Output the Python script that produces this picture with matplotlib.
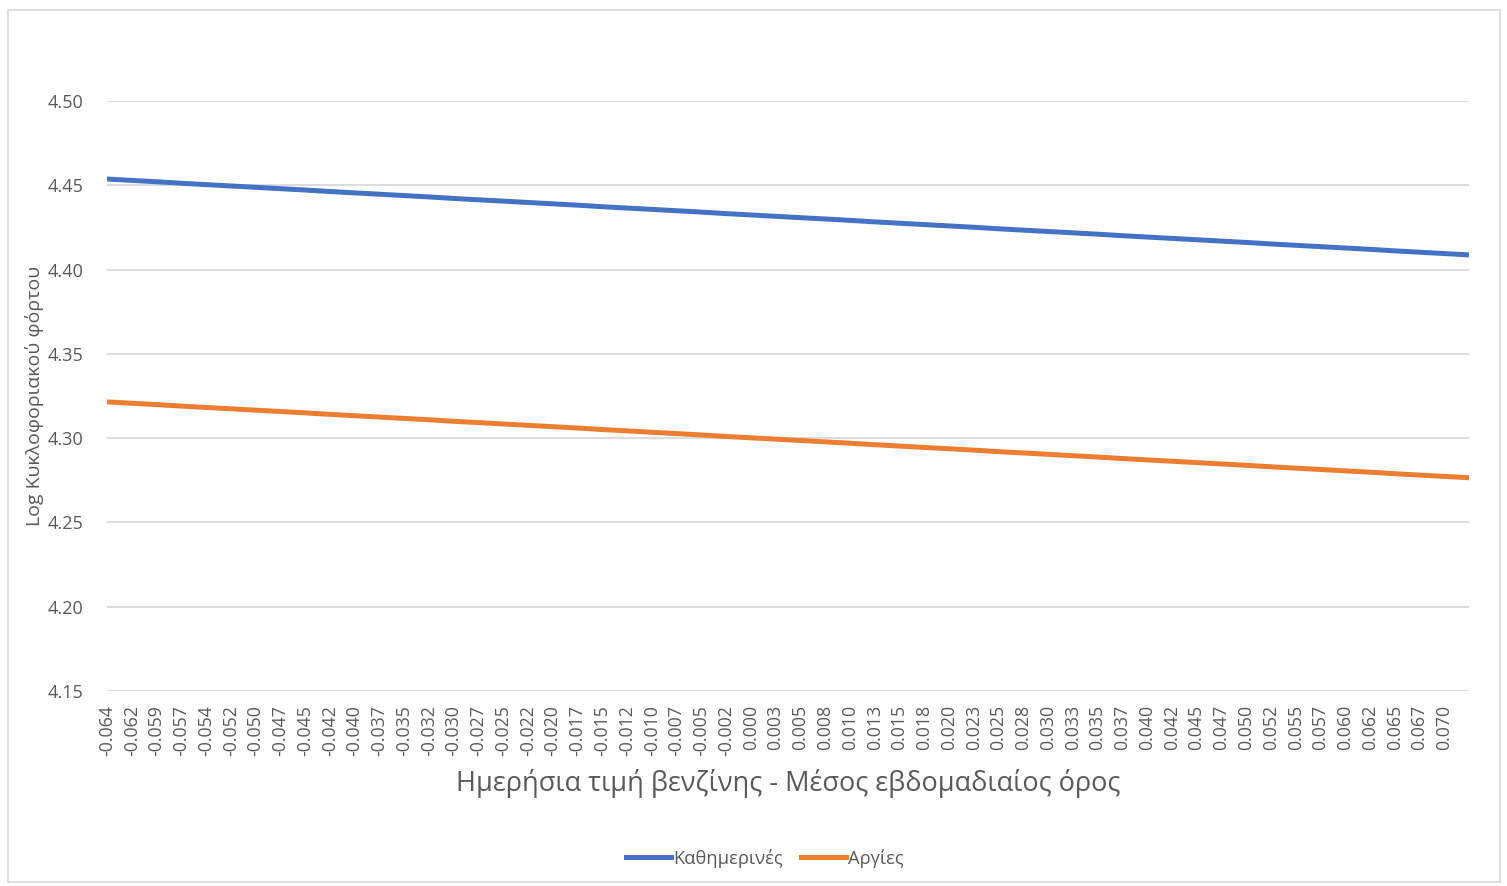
import matplotlib
matplotlib.use("Agg")
import matplotlib.pyplot as plt
from matplotlib.lines import Line2D
from matplotlib.patches import Rectangle

plt.rcParams['font.family'] = ['Open Sans', 'DejaVu Sans']

# Category labels along the price-difference axis (one per labelled category)
tick_labels = [
    "-0.064", "-0.062", "-0.059", "-0.057", "-0.054", "-0.052", "-0.050", "-0.047",
    "-0.045", "-0.042", "-0.040", "-0.037", "-0.035", "-0.032", "-0.030", "-0.027",
    "-0.025", "-0.022", "-0.020", "-0.017", "-0.015", "-0.012", "-0.010", "-0.007",
    "-0.005", "-0.002", "0.000", "0.003", "0.005", "0.008", "0.010", "0.013",
    "0.015", "0.018", "0.020", "0.023", "0.025", "0.028", "0.030", "0.033",
    "0.035", "0.037", "0.040", "0.042", "0.045", "0.047", "0.050", "0.052",
    "0.055", "0.057", "0.060", "0.062", "0.065", "0.067", "0.070",
]

# Predicted log traffic volume: weekdays
weekdays = [
    4.4537, 4.4529, 4.4521, 4.4512, 4.4504, 4.4496, 4.4488, 4.4480, 4.4472, 4.4463,
    4.4455, 4.4447, 4.4439, 4.4431, 4.4422, 4.4414, 4.4406, 4.4398, 4.4390, 4.4382,
    4.4373, 4.4365, 4.4357, 4.4349, 4.4341, 4.4332, 4.4324, 4.4316, 4.4308, 4.4300,
    4.4292, 4.4283, 4.4275, 4.4267, 4.4259, 4.4251, 4.4242, 4.4234, 4.4226, 4.4218,
    4.4210, 4.4201, 4.4193, 4.4185, 4.4177, 4.4169, 4.4161, 4.4152, 4.4144, 4.4136,
    4.4128, 4.4120, 4.4111, 4.4103, 4.4095, 4.4087,
]

# Predicted log traffic volume: holidays
holidays = [
    4.3215, 4.3207, 4.3199, 4.3190, 4.3182, 4.3174, 4.3166, 4.3158, 4.3150, 4.3141,
    4.3133, 4.3125, 4.3117, 4.3109, 4.3100, 4.3092, 4.3084, 4.3076, 4.3068, 4.3060,
    4.3051, 4.3043, 4.3035, 4.3027, 4.3019, 4.3010, 4.3002, 4.2994, 4.2986, 4.2978,
    4.2970, 4.2961, 4.2953, 4.2945, 4.2937, 4.2929, 4.2920, 4.2912, 4.2904, 4.2896,
    4.2888, 4.2879, 4.2871, 4.2863, 4.2855, 4.2847, 4.2839, 4.2830, 4.2822, 4.2814,
    4.2806, 4.2798, 4.2789, 4.2781, 4.2773, 4.2765,
]

series_names = ["Καθημερινές", "Αργίες"]
y_ticks = [4.15, 4.20, 4.25, 4.30, 4.35, 4.40, 4.45, 4.50]

BLUE = "#4472C4"
ORANGE = "#ED7D31"
GREY_TEXT = "#595959"
GRID = "#D9D9D9"

fig = plt.figure(figsize=(15.07, 8.86), dpi=100)
fig.patch.set_facecolor("white")

# thin chart-area frame
fig.patches.append(Rectangle((8 / 1507, 4 / 886), 1492 / 1507, 872 / 886,
                             transform=fig.transFigure, fill=False,
                             edgecolor="#D9D9D9", linewidth=1.2))

ax = fig.add_axes([107 / 1507, 1 - 691 / 886, 1362 / 1507, 590 / 886])

x = list(range(len(weekdays)))
ax.plot(x, weekdays, color=BLUE, linewidth=3.6, solid_capstyle="butt", zorder=3)
ax.plot(x, holidays, color=ORANGE, linewidth=3.6, solid_capstyle="butt", zorder=3)

ax.set_xlim(0, len(weekdays) - 1)
ax.set_ylim(y_ticks[0], y_ticks[-1])

ax.set_yticks(y_ticks)
ax.set_yticklabels([f"{v:.2f}" for v in y_ticks])
ax.set_xticks(range(len(tick_labels)))
ax.set_xticklabels(tick_labels, rotation=90)

ax.tick_params(axis="y", length=0, pad=17, labelsize=13, labelcolor=GREY_TEXT)
ax.tick_params(axis="x", length=0, pad=10, labelsize=12.8, labelcolor=GREY_TEXT)

for s in ax.spines.values():
    s.set_visible(False)
ax.grid(axis="y", color=GRID, linewidth=1.3, zorder=0)
ax.set_axisbelow(True)

fig.text(35 / 1507, 1 - 396 / 886, "Log Κυκλοφοριακού φόρτου",
         rotation=90, ha="center", va="center", fontsize=14, color=GREY_TEXT)
fig.text(788 / 1507, 1 - 783 / 886,
         "Ημερήσια τιμή βενζίνης - Μέσος εβδομαδιαίος όρος",
         ha="center", va="center", fontsize=19.5, color=GREY_TEXT)

handles = [Line2D([0], [0], color=BLUE, linewidth=3.6),
           Line2D([0], [0], color=ORANGE, linewidth=3.6)]
fig.legend(handles, series_names, loc="center", ncol=2,
           bbox_to_anchor=(765 / 1507, 1 - 858 / 886), frameon=False,
           fontsize=13.2, labelcolor=GREY_TEXT, handlelength=2.45,
           handletextpad=0.1, columnspacing=1.0)

fig.savefig("out.png", dpi=100, facecolor="white")
